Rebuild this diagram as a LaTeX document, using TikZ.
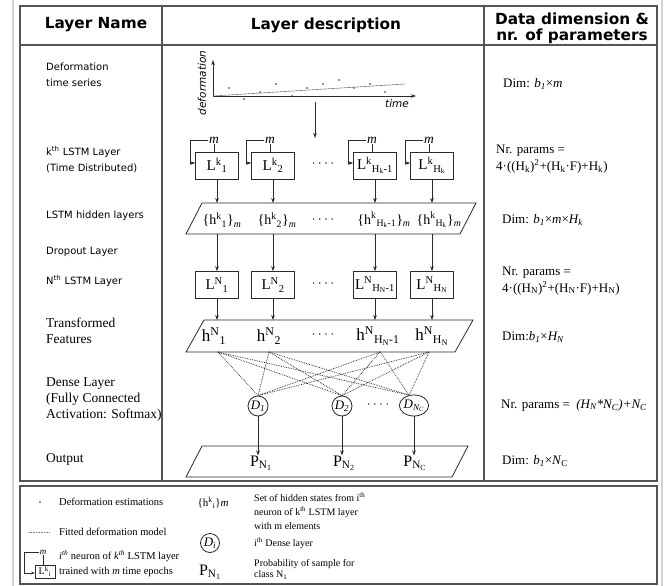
\documentclass[tikz,border=0pt]{standalone}
\usepackage{fontspec}
\setmainfont{Liberation Serif}
\setsansfont{DejaVu Sans}
\usetikzlibrary{arrows.meta,shapes.geometric}
\definecolor{rulegray}{HTML}{555555}
\definecolor{ink}{HTML}{2A2A2A}
\definecolor{edgegray}{HTML}{D2D2D2}
\definecolor{fitgray}{HTML}{808080}
\newcommand{\sps}[1]{\textsuperscript{#1}}
\newcommand{\sbs}[1]{\textsubscript{#1}}
\newcommand{\fourdots}{\textperiodcentered\hspace{2.2pt}\textperiodcentered\hspace{2.2pt}\textperiodcentered\hspace{2.2pt}\textperiodcentered}
\tikzset{
  tbl/.style={draw=rulegray, line width=1.4pt},
  lstmbox/.style={draw=ink, line width=0.7pt, minimum width=43pt, minimum height=27pt, inner sep=0pt, font=\fontsize{15}{15}\selectfont},
  smallbox/.style={draw=ink, line width=0.6pt, minimum width=20pt, minimum height=13pt, inner sep=0pt, font=\fontsize{10}{10}\selectfont},
  mlab/.style={inner sep=0.6pt, font=\itshape\fontsize{13.5}{13.5}\selectfont},
  smlab/.style={inner sep=0.4pt, font=\itshape\fontsize{9}{9}\selectfont},
  conn/.style={draw=ink, line width=0.7pt, -{Stealth[length=5pt,width=3.6pt]}},
  sconn/.style={draw=ink, line width=0.6pt, -{Stealth[length=3.5pt,width=2.8pt]}},
  link/.style={draw=ink, line width=0.7pt},
  dense/.style={draw=ink, line width=0.75pt, densely dotted},
  para/.style={draw=ink, line width=0.8pt},
  hdr/.style={font=\sffamily\bfseries\fontsize{15.3}{16}\selectfont, align=center, inner sep=0pt},
  sname/.style={font=\sffamily\fontsize{10}{16}\selectfont, anchor=west, align=left, inner sep=0pt},
  rname/.style={font=\fontsize{13.5}{16}\selectfont, anchor=west, align=left, inner sep=0pt},
  dimtxt/.style={font=\fontsize{13}{16.5}\selectfont, anchor=west, align=left, inner sep=0pt},
  hid/.style={font=\fontsize{14}{14}\selectfont, inner sep=0pt},
  feat/.style={font=\fontsize{17}{17}\selectfont, inner sep=0pt},
  outp/.style={font=\fontsize{16}{16}\selectfont, inner sep=0pt},
  dnode/.style={draw=ink, line width=0.8pt, circle, minimum size=20pt, inner sep=0pt, font=\itshape\fontsize{13}{13}\selectfont},
  dwide/.style={draw=ink, line width=0.8pt, ellipse, minimum width=27pt, minimum height=21pt, inner sep=0pt, font=\itshape\fontsize{13}{13}\selectfont},
  gap/.style={font=\fontsize{12}{12}\selectfont, inner sep=0pt},
  leg/.style={font=\fontsize{10.5}{14}\selectfont, anchor=west, inner sep=0pt},
  legr/.style={font=\fontsize{10}{11}\selectfont, anchor=west, inner sep=0pt},
  axlab/.style={font=\sffamily\itshape\fontsize{10.5}{10.5}\selectfont, inner sep=0pt},
  estdot/.style={fill=ink, circle, inner sep=0pt, minimum size=1.8pt}
}
\begin{document}
\begin{tikzpicture}[x=1pt,y=-1pt]
\useasboundingbox (0,0) rectangle (672,586);
\fill[white] (0,0) rectangle (672,586);

% page edges
\draw[edgegray, line width=1.5pt] (13,0) -- (13,586);
\draw[edgegray, line width=1.5pt] (662,0) -- (662,586);

% table frame and dividers
\draw[tbl] (20,6) rectangle (657,481);
\draw[tbl] (20,45) -- (657,45);
\draw[tbl] (162,6) -- (162,481);
\draw[tbl] (484,6) -- (484,481);

% header
\node[hdr] (h1) at (96,25) {Layer Name};
\node[hdr] (h2) at (326,25) {Layer description};
\node[hdr] (h3) at (572,28) {Data dimension \&\\nr. of parameters};

% layer names
\node[sname] (n1) at (46,75) {Deformation\\time series};
\node[sname] (n2) at (46,159.5) {k\sps{th} LSTM Layer\\(Time Distributed)};
\node[sname] (n3) at (46,216) {LSTM hidden layers};
\node[sname] (n4) at (46,252) {Dropout Layer};
\node[sname] (n5) at (46,281) {N\sps{th} LSTM Layer};
\node[rname] (n6) at (46,331) {Transformed\\Features};
\node[rname] (n7) at (46,400) {Dense Layer\\(Fully Connected\\Activation: Softmax)};
\node[rname] (n8) at (46,459) {Output};

% dimensions and parameters
\node[dimtxt] (r1) at (503,84) {Dim: \textit{b\sbs{1}}×\textit{m}};
\node[dimtxt] (r2) at (496,159) {Nr. params =\\4·((H\sbs{k})\sps{2}+(H\sbs{k}·F)+H\sbs{k})};
\node[dimtxt] (r3) at (502,220) {Dim: \textit{b\sbs{1}}×\textit{m}×\textit{H\sbs{k}}};
\node[dimtxt] (r4) at (502,281) {Nr. params =\\4·((H\sbs{N})\sps{2}+(H\sbs{N}·F)+H\sbs{N})};
\node[dimtxt] (r5) at (502,337) {Dim:\textit{b\sbs{1}}×\textit{H\sbs{N}}};
\node[dimtxt] (r6) at (501,405) {Nr. params =\ \ \textit{(H\sbs{N}*N\sbs{C})+N\sbs{C}}};
\node[dimtxt] (r7) at (502,461) {Dim: \textit{b\sbs{1}}×\textit{N}\sbs{C}};

% deformation time series plot
\coordinate (org) at (213,96);
\coordinate (ytop) at (213,60);
\coordinate (xend) at (416,96);
\draw[conn, line width=0.8pt] (org) -- (ytop);
\draw[conn, line width=0.8pt] (org) -- (xend);
\draw[fitgray, line width=0.6pt] (org) -- (405,84);
\foreach \px/\py in {229/88,244/99,260/92,276/84,292/96,307/88,323/84,339/80,354/88,370/84,385/92}
  \node[estdot] at (\px,\py) {};
\node[axlab, rotate=90] (ylab) at (202,83) {deformation};
\node[axlab] (xlab) at (397,104) {time};
\coordinate (seriesout) at (315,102);
\coordinate (seriesin) at (315,138);
\draw[conn] (seriesout) -- (seriesin);

% k-th LSTM layer (each cell feeds back onto itself over m steps)
\node[lstmbox] (lk1) at (217,165.5) {L\sps{k}\sbs{1}};
\node[lstmbox] (lk2) at (273,165.5) {L\sps{k}\sbs{2}};
\node[lstmbox] (lk3) at (375,165.5) {L\sps{k}\sbs{H\sbs{k}-1}};
\node[lstmbox] (lk4) at (432,165.5) {L\sps{k}\sbs{H\sbs{k}}};
\node[gap] (gk) at (323,165) {\fourdots};
\foreach \b in {lk1,lk2,lk3,lk4}{
  \node[mlab] (m\b) at ([xshift=-3pt,yshift=25pt]\b.center) {m};
  \draw[link] (m\b) -- (m\b |- \b.north);
  \draw[conn] (m\b.west) -| ([xshift=-5pt,yshift=2.5pt]\b.west) -- ([yshift=2.5pt]\b.west);
}

% hidden states band
\coordinate (p1tl) at (202,203);
\coordinate (p1tr) at (476,203);
\coordinate (p1br) at (460,234);
\coordinate (p1bl) at (186,234);
\draw[para] (p1tl) -- (p1tr) -- (p1br) -- (p1bl) -- cycle;
\node[hid] (hk1) at (222,220) {\{h\sps{k}\sbs{1}\}\sbs{\textit{m}}};
\node[hid] (hk2) at (277,220) {\{h\sps{k}\sbs{2}\}\sbs{\textit{m}}};
\node[hid] (hk3) at (384,220) {\{h\sps{k}\sbs{H\sbs{k}-1}\}\sbs{\textit{m}}};
\node[hid] (hk4) at (439,220) {\{h\sps{k}\sbs{H\sbs{k}}\}\sbs{\textit{m}}};
\node[gap] (gh) at (323,221) {\fourdots};
\foreach \b in {lk1,lk2,lk3,lk4}
  \draw[conn] (\b.south) -- (\b.south |- p1tl);

% N-th LSTM layer
\node[lstmbox] (ln1) at (217,285) {L\sps{N}\sbs{1}};
\node[lstmbox] (ln2) at (273,285) {L\sps{N}\sbs{2}};
\node[lstmbox] (ln3) at (375,285) {L\sps{N}\sbs{H\sbs{N}-1}};
\node[lstmbox] (ln4) at (432,285) {L\sps{N}\sbs{H\sbs{N}}};
\node[gap] (gn) at (323,285) {\fourdots};
\foreach \b in {ln1,ln2,ln3,ln4}
  \draw[conn] (\b.north |- p1bl) -- (\b.north);

% transformed features band
\coordinate (p2tl) at (204,320);
\coordinate (p2tr) at (473,320);
\coordinate (p2br) at (455,352);
\coordinate (p2bl) at (186,352);
\draw[para] (p2tl) -- (p2tr) -- (p2br) -- (p2bl) -- cycle;
\node[feat] (f1) at (214,336) {h\sps{N}\sbs{1}};
\node[feat] (f2) at (269,336) {h\sps{N}\sbs{2}};
\node[feat] (f3) at (378,336) {h\sps{N}\sbs{H\sbs{N}-1}};
\node[feat] (f4) at (432,336) {h\sps{N}\sbs{H\sbs{N}}};
\node[gap] (gf) at (323,336) {\fourdots};
\foreach \b in {ln1,ln2,ln3,ln4}
  \draw[conn] (\b.south) -- (\b.south |- p2tl);

% dense layer: every feature feeds every unit
\coordinate (t1) at (218,352);
\coordinate (t2) at (269,352);
\coordinate (t3) at (380,352);
\coordinate (t4) at (429,352);
\node[dnode] (d1) at (258,406) {D\sbs{1}};
\node[dnode] (d2) at (342,406) {D\sbs{2}};
\node[dwide] (d3) at (414,405.5) {D\sbs{N\sbs{C}}};
\node[gap] (gd) at (378,406) {\fourdots};
\foreach \t in {t1,t2,t3,t4}{
  \draw[dense] (\t) -- (d1.north);
  \draw[dense] (\t) -- (d2.north);
  \draw[dense] (\t) -- (d3.115);
}

% output band
\coordinate (p3tl) at (202,446);
\coordinate (p3tr) at (468,446);
\coordinate (p3br) at (452,477);
\coordinate (p3bl) at (186,477);
\draw[para] (p3tl) -- (p3tr) -- (p3br) -- (p3bl) -- cycle;
\node[outp] (o1) at (261,463) {P\sbs{N\sbs{1}}};
\node[outp] (o2) at (344,463) {P\sbs{N\sbs{2}}};
\node[outp] (o3) at (415,463) {P\sbs{N\sbs{C}}};
\draw[conn] (d1.south) -- (d1.south |- o1.north);
\draw[conn] (d2.south) -- (d2.south |- o2.north);
\draw[conn] (d3.south) -- (d3.south |- o3.north);

% legend
\draw[tbl] (20,486) rectangle (657,584);
\node[estdot] (ldot) at (40,502) {};
\node[leg] (l1) at (59,502) {Deformation estimations};
\coordinate (lfa) at (28,532);
\coordinate (lfb) at (50,532);
\draw[fitgray, line width=0.6pt, densely dotted] (lfa) -- (lfb);
\node[leg] (l2) at (59,532) {Fitted deformation model};
\node[smallbox] (lbox) at (45,571.5) {L\sps{k}\sbs{i}};
\node[smlab] (lm) at (43,552) {m};
\draw[link, line width=0.6pt] (lm) -- (lm |- lbox.north);
\draw[sconn] (lm.west) -| ([xshift=-10pt,yshift=-1.5pt]lbox.west) -- ([yshift=-1.5pt]lbox.west);
\node[leg] (l3) at (59,556) {\textit{i\sps{th}} neuron of \textit{k\sps{th}} LSTM layer};
\node[leg] (l4) at (59,572) {trained with \textit{m} time epochs};
\node[font=\fontsize{11}{11}\selectfont, inner sep=0pt] (lh) at (213,503) {\{h\sps{k}\sbs{i}\}\textit{m}};
\node[dnode, minimum size=19pt] (ld) at (210,543) {D\sbs{i}};
\node[outp] (lp) at (210,572) {P\sbs{N\sbs{1}}};
\node[legr] (g1) at (254,497) {Set of hidden states from i\sps{th}};
\node[legr] (g2) at (254,512) {neuron of k\sps{th} LSTM layer};
\node[legr] (g3) at (254,526) {with m elements};
\node[legr] (g4) at (254,543) {i\sps{th} Dense layer};
\node[legr] (g5) at (254,564) {Probability of sample for};
\node[legr] (g6) at (254,575) {class N\sbs{1}};
\end{tikzpicture}
\end{document}
